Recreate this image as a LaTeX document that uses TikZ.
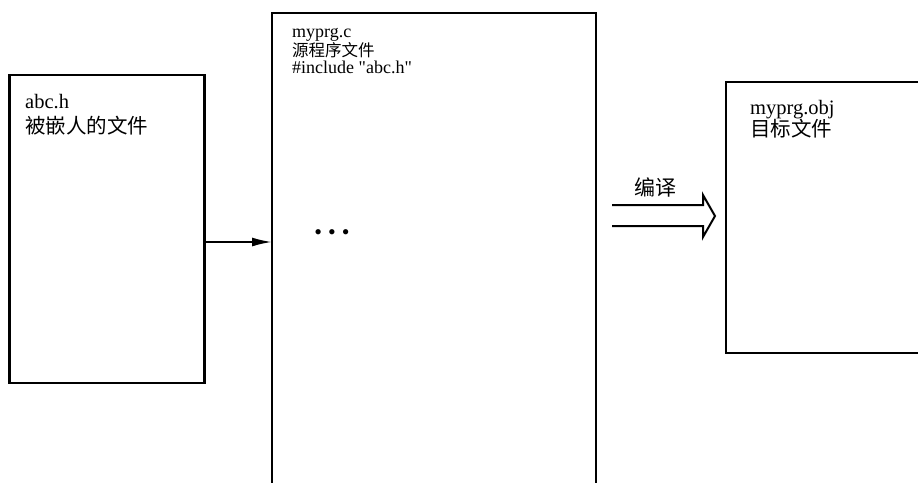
\documentclass[tikz,border=0pt]{standalone}
\usepackage{fontspec}
\setmainfont{Liberation Serif}[Ligatures=TeXOff]
\newfontfamily\cjk{Noto Sans CJK SC}
\usetikzlibrary{arrows.meta,calc}
\begin{document}
\begin{tikzpicture}[x=1pt,y=-1pt,
  filebox/.style={draw,line width=2.2pt,rectangle,inner sep=0pt,outer sep=0pt},
  lat/.style={anchor=base west,inner sep=0pt,font=\fontsize{#1}{#1}\selectfont},
  han/.style={anchor=west,inner sep=0pt,font=\cjk\fontsize{#1}{#1}\selectfont},
  conn/.style={line width=2pt}]
\useasboundingbox (0,0) rectangle (918,482);
\clip (0,0) rectangle (918,482);
% boxes
\node[filebox,minimum width=195pt,minimum height=308pt] (hbox) at (107,229) {};
\node[filebox,minimum width=324pt,minimum height=490pt] (cbox) at (434,258) {};
\node[filebox,minimum width=230pt,minimum height=271pt] (obox) at (841,217.5) {};
% texts
\node[lat=20.5] (h1) at (25,108) {abc.h};
\node[han=20.5] (h2) at (25,126) {被嵌人的文件};
\node[lat=18] (c1) at (292,37) {myprg.c};
\node[han=16.5] (c2) at (292,50) {源程序文件};
\node[lat=18] (c3) at (292,73) {\#include "abc.h"};
\node[lat=20.5] (o1) at (750,114) {myprg.obj};
\node[han=20.5] (o2) at (750,129) {目标文件};
\node[inner sep=0pt,font=\fontsize{22}{22}\selectfont] (dots) at (332,235) {\textbullet\hspace{6pt}\textbullet\hspace{6pt}\textbullet};
% include arrow
\coordinate (ay) at (0,242);
\draw[conn,-{Latex[length=20pt,width=9pt]}] (hbox.east |- ay) -- (cbox.west |- ay);
% compile arrow (hollow)
\node[inner sep=0pt,font=\cjk\fontsize{21}{21}\selectfont] (lbl) at (655,187) {编译};
\coordinate (s1) at (612,205);
\coordinate (s2) at (612,226);
\coordinate (tip) at (715,216);
\draw[conn,line join=miter] (s1) -- (703,205) -- (703,195) -- (tip) -- (703,237) -- (703,226) -- (s2);
\end{tikzpicture}
\end{document}
